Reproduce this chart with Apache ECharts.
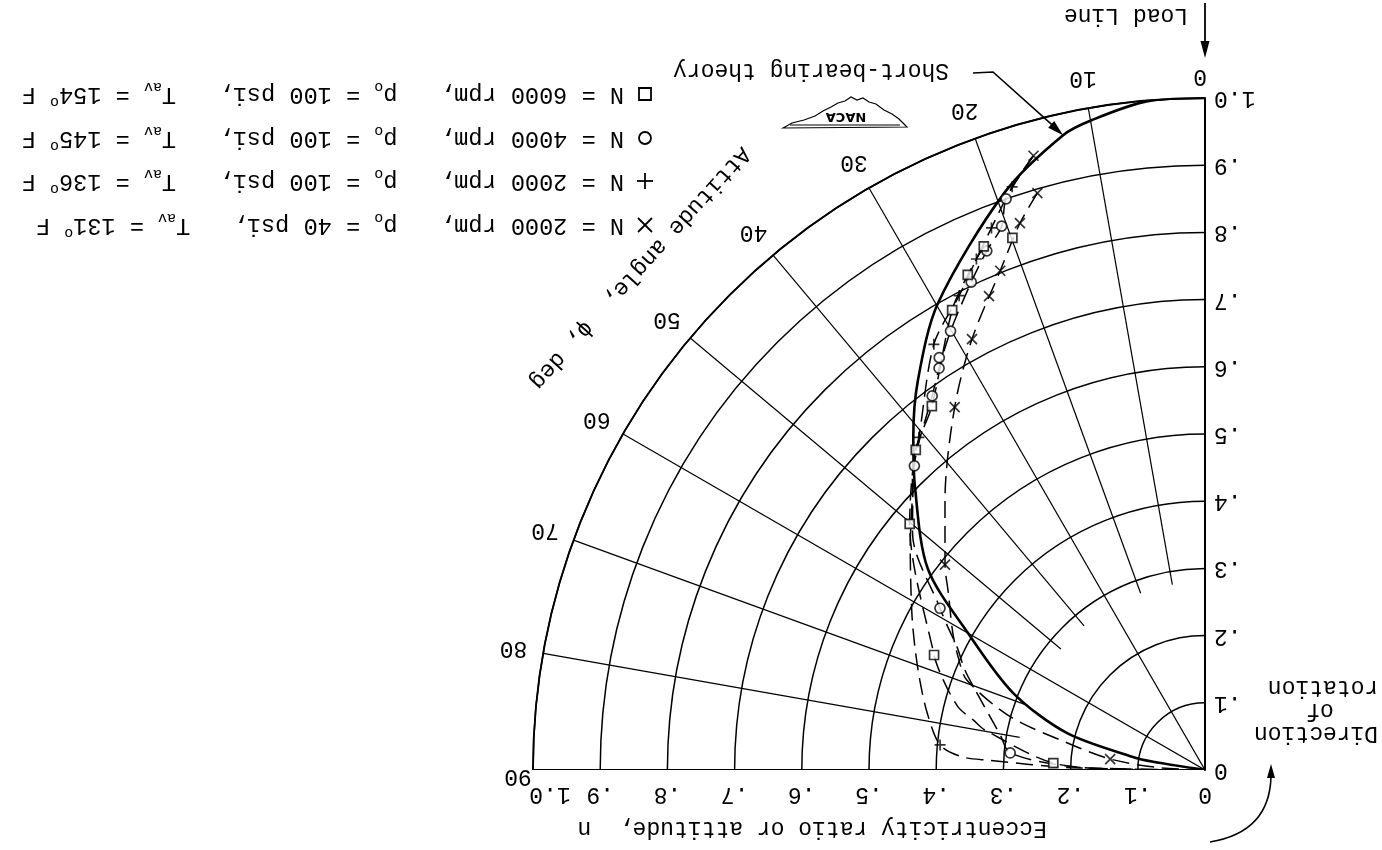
<!DOCTYPE html>
<html><head><meta charset="utf-8">
<script src="https://cdn.jsdelivr.net/npm/echarts@6/dist/echarts.min.js"></script>
<style>html,body{margin:0;padding:0;background:#fff}#c{width:1382px;height:850px}</style>
</head><body><div id="c"></div>
<script>
// ---------- axes ----------
const radiusTicks = [0, 0.1, 0.2, 0.3, 0.4, 0.5, 0.6, 0.7, 0.8, 0.9, 1.0];
const radiusTickLabels = ['0', '.1', '.2', '.3', '.4', '.5', '.6', '.7', '.8', '.9', '1.0'];
const angleTicks = [0, 10, 20, 30, 40, 50, 60, 70, 80, 90];
const angleTickLabels = ['0', '10', '20', '30', '40', '50', '60', '70', '80', '90'];
const fullRadials = [0, 30, 60, 90];
const shortRadials = [10, 20, 40, 50, 70, 80];
const shortRadialStart = 0.28;

// ---------- short-bearing theory ----------
const theoryR   = [1.0, 0.999, 0.982, 0.968, 0.91, 0.80, 0.72, 0.659, 0.603, 0.51, 0.407, 0.308, 0.213, 0.109, 0.078, 0.0];
const theoryPhi = [0,   4.9,   9.8,   12.6,  19.1, 29.8, 36.4, 41.2,  45.7,  54.0, 60.0,  68.1,  75.0,  79.8,  81.0,  90];

// ---------- x : N = 2000 rpm, p0 = 40 psi ----------
const xR   = [0.949, 0.894, 0.859, 0.803, 0.775, 0.729, 0.656, 0.493, 0.142];
const xPhi = [15.6, 16.2, 18.7, 22.3, 24.5, 28.4, 34.6, 51.7, 83.4];
const xCurveR   = [0.894, 0.859, 0.803, 0.729, 0.656, 0.558, 0.493, 0.464, 0.427, 0.404, 0.379, 0.30, 0.212, 0.142, 0.07, 0];
const xCurvePhi = [16.2, 18.7, 22.3, 28.4, 34.6, 43.9, 51.7, 55.4, 61.5, 65.4, 69.3, 74.7, 78.7, 83.4, 87, 90];

// ---------- + : N = 2000 rpm, p0 = 100 psi ----------
const pR   = [0.914, 0.867, 0.833, 0.795, 0.751, 0.653, 0.396];
const pPhi = [18.3, 21.5, 24.1, 27.4, 32.5, 40.7, 84.6];
const pCurveR   = [0.949, 0.914, 0.867, 0.833, 0.795, 0.751, 0.653, 0.63, 0.593, 0.55, 0.495, 0.469, 0.445, 0.422, 0.396, 0.362, 0.323, 0.2, 0];
const pCurvePhi = [15.6, 18.3, 21.5, 24.1, 27.4, 32.5, 40.7, 43.6, 47.3, 52.9, 61.8, 67.0, 72.5, 78.4, 84.6, 86.9, 87.4, 89, 90];

// ---------- o : N = 4000 rpm, p0 = 100 psi ----------
const oR   = [0.900, 0.864, 0.838, 0.805, 0.755, 0.730, 0.717, 0.689, 0.626, 0.462, 0.291];
const oPhi = [19.2, 20.5, 22.8, 25.6, 30.1, 32.8, 33.5, 36.1, 43.7, 58.6, 85.0];
const oCurveR   = [0.949, 0.900, 0.864, 0.838, 0.805, 0.755, 0.717, 0.689, 0.626, 0.56, 0.462, 0.438, 0.412, 0.387, 0.362, 0.309, 0.291, 0.2, 0.1, 0];
const oCurvePhi = [15.6, 19.2, 20.5, 22.8, 25.6, 30.1, 33.5, 36.1, 43.7, 51.0, 58.6, 60.9, 63.6, 67.4, 70.8, 80.3, 85.0, 88.5, 89.5, 90];

// ---------- square : N = 6000 rpm, p0 = 100 psi ----------
const sR   = [0.842, 0.846, 0.817, 0.781, 0.677, 0.642, 0.572, 0.438, 0.226];
const sPhi = [19.9, 22.9, 25.6, 28.8, 36.9, 42.1, 50.2, 67.0, 87.4];
const sCurveR   = [0.846, 0.817, 0.781, 0.677, 0.642, 0.572, 0.438, 0.412, 0.379, 0.353, 0.333, 0.226, 0.12, 0];
const sCurvePhi = [22.9, 25.6, 28.8, 36.9, 42.1, 50.2, 67.0, 71.0, 75.7, 77.8, 79.7, 87.4, 89.3, 90];

// ---------- legend text ----------
const legendSpeeds    = ['6000', '4000', '2000', '2000'];
const legendPressures = ['100', '100', '100', '40'];
const legendTemps     = ['154', '145', '136', '131'];
const legendSymbols   = ['square', 'circle', 'plus', 'cross'];

const FONT = 'Liberation Mono';
const FS = 23;
const zip = (r, a) => r.map((v, i) => [v, a[i]]);

const chart = echarts.init(document.getElementById('c'), null, {renderer: 'canvas'});

const gridSeries = [];
fullRadials.forEach(a => gridSeries.push({
  type: 'line', coordinateSystem: 'polar', silent: true, symbol: 'none',
  data: [[0, a], [1, a]], lineStyle: {color: '#000', width: a === 90 || a === 0 ? 2 : 1.2}, z: 1
}));
shortRadials.forEach(a => gridSeries.push({
  type: 'line', coordinateSystem: 'polar', silent: true, symbol: 'none',
  data: [[shortRadialStart, a], [1, a]], lineStyle: {color: '#000', width: 1.2}, z: 1
}));

const dashed = (r, a) => ({
  type: 'line', coordinateSystem: 'polar', silent: true, symbol: 'none', smooth: 0.3,
  data: zip(r, a), lineStyle: {color: '#000', width: 1.5, type: [17, 8]}, z: 3
});
const markerStyle = {color: '#fff', borderColor: '#000', borderWidth: 1.7};
const crossStyle = {color: 'transparent', borderColor: '#000', borderWidth: 1.7};

const option = {
  animation: false,
  backgroundColor: '#fff',
  polar: {center: [1205, 770], radius: 672},
  angleAxis: {
    type: 'value', min: 0, max: 90, interval: 10, startAngle: 90, endAngle: 180, clockwise: false,
    axisLine: {show: true, lineStyle: {color: '#000', width: 1.8}},
    axisTick: {show: false}, axisLabel: {show: false}, splitLine: {show: false}, splitArea: {show: false}
  },
  radiusAxis: {
    type: 'value', min: 0, max: 1, interval: 0.1,
    axisLine: {show: true, lineStyle: {color: '#000', width: 2}},
    axisTick: {show: false}, axisLabel: {show: false},
    splitLine: {show: true, lineStyle: {color: '#000', width: 1.5}}, splitArea: {show: false}
  },
  series: [
    {type: 'line', coordinateSystem: 'polar', silent: true, symbol: 'none', smooth: 0.3,
     data: zip(theoryR, theoryPhi), lineStyle: {color: '#000', width: 2.6}, z: 4},
    ...gridSeries,
    dashed(xCurveR, xCurvePhi),
    dashed(pCurveR, pCurvePhi),
    dashed(oCurveR, oCurvePhi),
    dashed(sCurveR, sCurvePhi),
    {type: 'scatter', coordinateSystem: 'polar', silent: true, symbol: 'path://M0,0L10,10M10,0L0,10', symbolSize: 10,
     data: zip(xR, xPhi), itemStyle: crossStyle, z: 5},
    {type: 'scatter', coordinateSystem: 'polar', silent: true, symbol: 'path://M5,0L5,10M0,5L10,5', symbolSize: 11,
     data: zip(pR, pPhi), itemStyle: crossStyle, z: 5},
    {type: 'scatter', coordinateSystem: 'polar', silent: true, symbol: 'circle', symbolSize: 10,
     data: zip(oR, oPhi), itemStyle: markerStyle, z: 5},
    {type: 'scatter', coordinateSystem: 'polar', silent: true, symbol: 'rect', symbolSize: 9,
     data: zip(sR, sPhi), itemStyle: markerStyle, z: 5}
  ]
};
chart.setOption(option);

const toPx = (r, a) => chart.convertToPixel({seriesIndex: 0}, [r, a]);
const els = [];
const txt = (text, x, y, opts) => els.push(Object.assign({
  type: 'text', x, y, rotation: Math.PI, silent: true, z: 10,
  style: Object.assign({text, fontFamily: FONT, fontSize: FS, fill: '#000', align: 'center', verticalAlign: 'middle'}, (opts && opts.style) || {})
}, opts && opts.el || {}));

// radius tick labels: vertical axis (right side) and baseline (below)
radiusTicks.forEach((r, i) => {
  const pv = toPx(r, 0);
  txt(radiusTickLabels[i], pv[0] + 9, pv[1], {style: {align: 'right'}});
  const ph = toPx(r, 90);
  const shift = r === 1 ? 17 : 0;
  txt(radiusTickLabels[i], ph[0] + shift, ph[1] + 24);
});
// angle labels
angleTicks.forEach((a, i) => {
  let p = toPx(1.045, a);
  if (a === 90) { p = toPx(1, 90); p = [p[0] - 15, p[1] + 6]; }
  if (a === 0) { p = [p[0] - 5, p[1] + 8]; }
  txt(angleTickLabels[i], p[0], p[1]);
});

// titles
txt('Eccentricity ratio or attitude,  n', 812, 828);
txt('Load Line', 1126, 15);
txt('Short-bearing theory', 811, 70);
txt('Direction', 1316, 733);
txt('of', 1320, 710);
txt('rotation', 1323, 687);
els.push({type: 'text', x: 640, y: 268, rotation: -132 * Math.PI / 180, silent: true, z: 10,
  style: {text: 'Attitude angle,  \u03d5, deg', fontFamily: FONT, fontSize: FS, fill: '#000', align: 'center', verticalAlign: 'middle'}});

// arrow helper
const arrowHead = (sx, sy, tx, ty, L, W) => {
  const dx = tx - sx, dy = ty - sy, d = Math.hypot(dx, dy), ux = dx / d, uy = dy / d;
  els.push({type: 'polygon', silent: true, z: 10, shape: {points: [[tx, ty], [tx - L * ux - W * uy, ty - L * uy + W * ux], [tx - L * ux + W * uy, ty - L * uy - W * ux]]}, style: {fill: '#000'}});
};
// load line arrow
const top0 = toPx(1, 0);
els.push({type: 'line', silent: true, shape: {x1: top0[0], y1: 3, x2: top0[0], y2: 50}, style: {stroke: '#000', lineWidth: 1.8}});
arrowHead(top0[0], 3, top0[0], 58, 17, 4.5);
// short-bearing leader
const tip = toPx(0.968, 12.6);
els.push({type: 'polyline', silent: true, shape: {points: [[973, 73], [993, 72], [tip[0] - 4, tip[1] - 4]]}, style: {stroke: '#000', lineWidth: 1.6, fill: null}});
arrowHead(993, 72, tip[0], tip[1], 16, 4.5);
// rotation arrow
els.push({type: 'bezierCurve', silent: true, shape: {x1: 1210, y1: 842, cpx1: 1270, cpy1: 832, x2: 1271, y2: 776}, style: {stroke: '#000', lineWidth: 1.6, fill: null}});
arrowHead(1271, 790, 1271, 764, 14, 4);

// NACA logo
els.push({type: 'polygon', silent: true, shape: {points: [[783,128],[792,123],[804,120],[815,116],[823,111],[831,107],[838,103],[845,101],[851,97],[857,100],[863,98],[869,102],[876,104],[884,110],[892,114],[899,119],[907,127]]}, style: {fill: '#fff', stroke: '#000', lineWidth: 1.2}});
els.push({type: 'line', silent: true, shape: {x1: 790, y1: 125, x2: 900, y2: 125}, style: {stroke: '#000', lineWidth: 1}});
els.push({type: 'text', x: 846, y: 116, rotation: Math.PI, silent: true, style: {text: 'NACA', fontFamily: 'DejaVu Sans', fontWeight: 'bold', fontSize: 13, fill: '#000', align: 'center', verticalAlign: 'middle'}});

// legend
const legendY = [94, 138, 181, 225];
const LFS = 23.6;
legendSymbols.forEach((s, i) => {
  const x = 645, y = legendY[i];
  if (s === 'square') els.push({type: 'rect', silent: true, shape: {x: x - 6, y: y - 6, width: 12, height: 12}, style: {fill: '#fff', stroke: '#000', lineWidth: 1.8}});
  if (s === 'circle') els.push({type: 'circle', silent: true, shape: {cx: x, cy: y, r: 6}, style: {fill: '#fff', stroke: '#000', lineWidth: 1.8}});
  if (s === 'plus') els.push({type: 'polyline', silent: true, shape: {points: [[x - 8, y], [x + 8, y]]}, style: {stroke: '#000', lineWidth: 1.8}},
                            {type: 'polyline', silent: true, shape: {points: [[x, y - 8], [x, y + 8]]}, style: {stroke: '#000', lineWidth: 1.8}});
  if (s === 'cross') els.push({type: 'polyline', silent: true, shape: {points: [[x - 7, y - 7], [x + 7, y + 7]]}, style: {stroke: '#000', lineWidth: 1.8}},
                             {type: 'polyline', silent: true, shape: {points: [[x + 7, y - 7], [x - 7, y + 7]]}, style: {stroke: '#000', lineWidth: 1.8}});
  const t = '{m|N = ' + legendSpeeds[i] + ' rpm,   p}{sub|o}{m| = ' + legendPressures[i] + ' psi,   T}{sub|av}{m| = ' + legendTemps[i] + '}{sup|o}{m| F}';
  els.push({type: 'text', x: 624, y: y, rotation: Math.PI, silent: true, z: 10,
    style: {text: t, align: 'left', verticalAlign: 'middle', fill: '#000',
      rich: {
        m: {fontFamily: FONT, fontSize: LFS, lineHeight: 30, fill: '#000'},
        sub: {fontFamily: FONT, fontSize: 15, lineHeight: 15, verticalAlign: 'bottom', fill: '#000'},
        sup: {fontFamily: FONT, fontSize: 15, lineHeight: 15, verticalAlign: 'top', fill: '#000'}
      }}});
});

chart.setOption({graphic: {elements: els}});
</script>
</body></html>
